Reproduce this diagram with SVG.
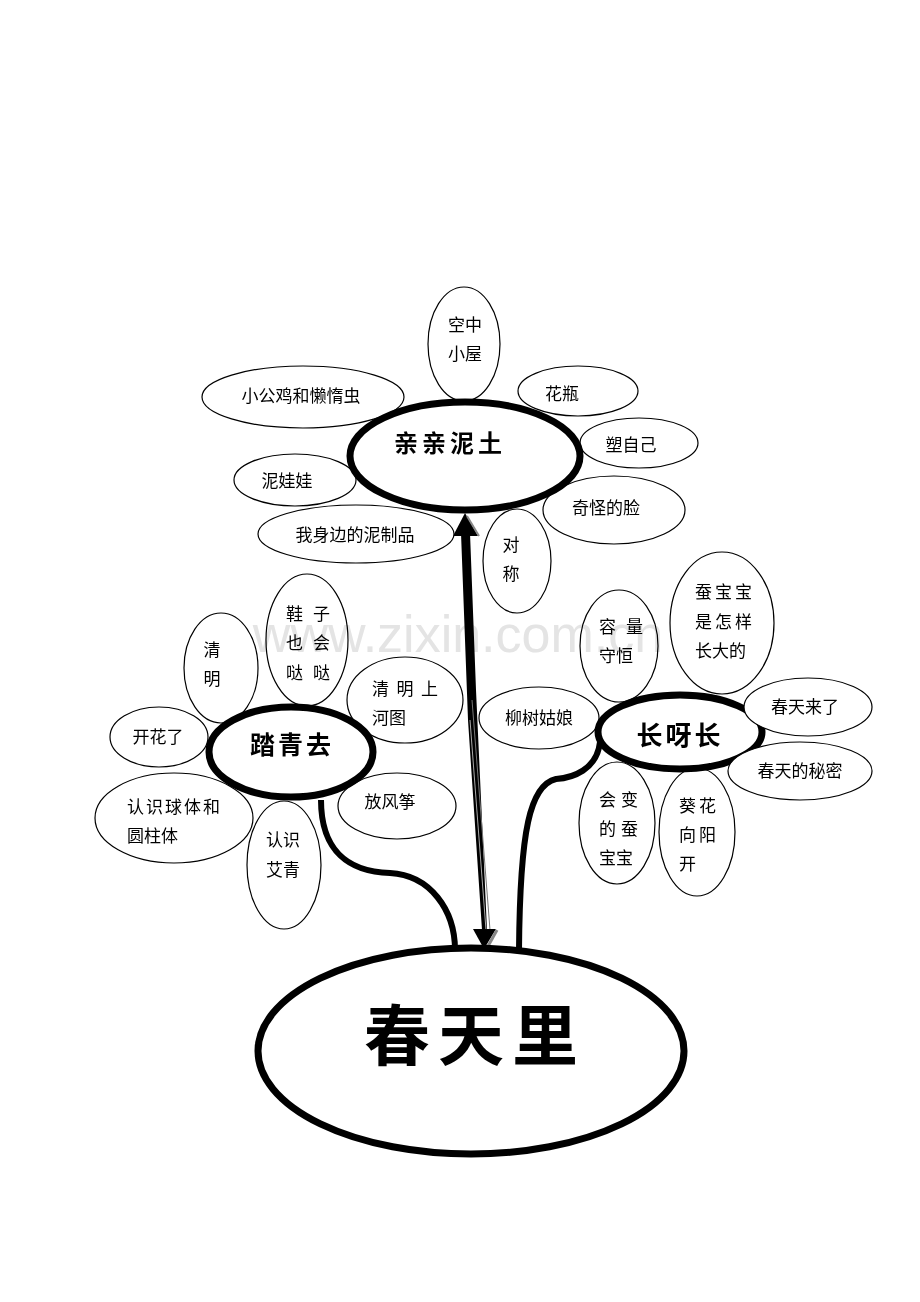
<svg xmlns="http://www.w3.org/2000/svg" width="920" height="1302" viewBox="0 0 920 1302">
<style>
.s{fill:#fff;stroke:#000;stroke-width:1.2}
.b{fill:#fff;stroke:#000;stroke-width:7}
.t{font-family:"Noto Sans CJK SC","Noto Sans",sans-serif;font-size:17px;fill:#000}
.h{font-family:"Noto Sans CJK SC","Noto Sans",sans-serif;font-weight:bold;fill:#000}
.m{text-anchor:middle}
.c{fill:none;stroke:#000;stroke-width:6;stroke-linecap:butt}
</style>
<rect width="920" height="1302" fill="#fff"/>

<g id="connectors">
<path class="c" d="M321,800 C321,852 350,872 390,873 C430,875 455,910 455,950"/>
<path class="c" d="M600,742 C597,770 572,778 556,779 C530,785 520,830 519,950"/>
<g id="double-arrow">
<polygon points="461,533 470,533 476,690 487,930 482,930 468,720" fill="#000"/>
<line x1="472" y1="700" x2="490" y2="930" stroke="#777" stroke-width="1"/>
<line x1="470" y1="720" x2="486" y2="930" stroke="#aaa" stroke-width="1"/>
<polygon points="465,513 478,536 453,536" fill="#000"/>
<line x1="467" y1="516" x2="479" y2="536" stroke="#888" stroke-width="2"/>
<polygon points="484,949 473,929 496,929" fill="#000"/>
<line x1="487" y1="948" x2="497" y2="930" stroke="#888" stroke-width="3"/>
</g>
</g>

<g id="n-kongzhong"><ellipse class="s" cx="464" cy="344" rx="36" ry="57"/><text class="t m" x="465" y="331">空中</text><text class="t m" x="465" y="360">小屋</text></g>
<g id="n-xiaogongji"><ellipse class="s" cx="303" cy="397" rx="101" ry="31"/><text class="t m" x="301" y="402">小公鸡和懒惰虫</text></g>
<g id="n-huaping"><ellipse class="s" cx="578" cy="391" rx="60" ry="25"/><text class="t m" x="562" y="400">花瓶</text></g>
<g id="n-suziji"><ellipse class="s" cx="639" cy="443" rx="59" ry="25"/><text class="t m" x="631" y="451">塑自己</text></g>
<g id="n-niwawa"><ellipse class="s" cx="295" cy="480" rx="61" ry="26"/><text class="t m" x="287" y="487">泥娃娃</text></g>
<g id="n-qiguai"><ellipse class="s" cx="614" cy="510" rx="71" ry="34"/><text class="t m" x="606" y="514">奇怪的脸</text></g>
<g id="n-woshenbian"><ellipse class="s" cx="356" cy="534" rx="98" ry="29"/><text class="t m" x="355" y="541">我身边的泥制品</text></g>
<g id="n-duicheng"><ellipse class="s" cx="517" cy="561" rx="34" ry="52"/><text class="t m" x="511" y="551">对</text><text class="t m" x="511" y="580">称</text></g>

<g id="n-qinqinnitu"><ellipse class="b" cx="465" cy="456" rx="115" ry="54"/><text class="h m" x="450" y="452" font-size="24" letter-spacing="4">亲亲泥土</text></g>

<g id="n-qingming"><ellipse class="s" cx="221" cy="668" rx="37" ry="55"/><text class="t m" x="212" y="656">清</text><text class="t m" x="212" y="685">明</text></g>
<g id="n-xiezi"><ellipse class="s" cx="307" cy="640" rx="41" ry="66"/><text class="t" x="286" y="620" letter-spacing="10">鞋子</text><text class="t" x="286" y="649" letter-spacing="10">也会</text><text class="t" x="286" y="679" letter-spacing="10">哒哒</text></g>
<g id="n-qingmingshanghetu"><ellipse class="s" cx="405" cy="700" rx="58" ry="43"/><text class="t" x="372" y="695" letter-spacing="7.5">清明上</text><text class="t" x="372" y="724">河图</text></g>
<g id="n-kaihuale"><ellipse class="s" cx="159" cy="737" rx="49" ry="30"/><text class="t m" x="158" y="743">开花了</text></g>
<g id="n-qiuti"><ellipse class="s" cx="174" cy="818" rx="79" ry="45"/><text class="t" x="127" y="813" letter-spacing="2">认识球体和</text><text class="t" x="127" y="842">圆柱体</text></g>
<g id="n-aiqing"><ellipse class="s" cx="284" cy="865" rx="37" ry="64"/><text class="t m" x="283" y="846">认识</text><text class="t m" x="283" y="876">艾青</text></g>
<g id="n-fangfengzheng"><ellipse class="s" cx="397" cy="806" rx="59" ry="33"/><text class="t m" x="390" y="808">放风筝</text></g>

<g id="n-taqingqu"><ellipse class="b" cx="291" cy="752" rx="82" ry="45" stroke-width="6"/><text class="h m" x="292" y="754" font-size="25" letter-spacing="3">踏青去</text></g>

<g id="n-liushu"><ellipse class="s" cx="539" cy="718" rx="60" ry="31"/><text class="t m" x="539" y="724">柳树姑娘</text></g>
<g id="n-rongliang"><ellipse class="s" cx="619" cy="646" rx="39" ry="56"/><text class="t" x="599" y="633" letter-spacing="10">容量</text><text class="t" x="599" y="662">守恒</text></g>
<g id="n-canbaobao"><ellipse class="s" cx="722" cy="623" rx="52" ry="71"/><text class="t" x="695" y="598" letter-spacing="3">蚕宝宝</text><text class="t" x="695" y="628" letter-spacing="3">是怎样</text><text class="t" x="695" y="657">长大的</text></g>
<g id="n-huibian"><ellipse class="s" cx="617" cy="823" rx="38" ry="61"/><text class="t" x="599" y="806" letter-spacing="5">会变</text><text class="t" x="599" y="835" letter-spacing="5">的蚕</text><text class="t" x="599" y="864">宝宝</text></g>
<g id="n-kuihua"><ellipse class="s" cx="697" cy="832" rx="38" ry="64"/><text class="t" x="679" y="812" letter-spacing="3">葵花</text><text class="t" x="679" y="841" letter-spacing="3">向阳</text><text class="t" x="679" y="870">开</text></g>

<g id="n-zhangyazhang"><ellipse class="b" cx="680" cy="732" rx="82" ry="37" stroke-width="6"/><text class="h m" x="680" y="745" font-size="26" letter-spacing="3">长呀长</text></g>

<g id="n-chuntianlaile"><ellipse class="s" cx="808" cy="707" rx="64" ry="29"/><text class="t m" x="805" y="713">春天来了</text></g>
<g id="n-mimi"><ellipse class="s" cx="800" cy="771" rx="72" ry="29"/><text class="t m" x="800" y="777">春天的秘密</text></g>

<g id="n-chuntianli"><ellipse class="b" cx="471" cy="1051" rx="213" ry="103"/><text class="h m" x="475" y="1060" font-size="66" letter-spacing="8">春天里</text></g>

<text x="458" y="652" font-family="Liberation Sans,Arial,sans-serif" font-size="52" fill="#e4e4e4" text-anchor="middle" style="mix-blend-mode:multiply">www.zixin.com.cn</text>
</svg>
